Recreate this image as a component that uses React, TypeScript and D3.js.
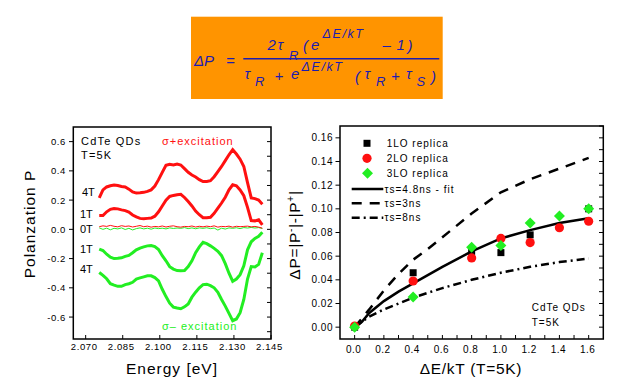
import * as d3 from 'd3';

// left panel: polarization spectra (energy grid shared by all curves)
const energies = [
  2.0755, 2.077, 2.0785, 2.08, 2.0815, 2.083, 2.0845, 2.086, 2.0875, 2.089, 2.0905, 2.092, 2.0935, 2.095, 2.0965,
  2.098, 2.0995, 2.101, 2.1025, 2.104, 2.1055, 2.107, 2.1085, 2.11, 2.1115, 2.113, 2.1145, 2.116, 2.1175, 2.119,
  2.1205, 2.122, 2.1235, 2.125, 2.1265, 2.128, 2.1295, 2.131, 2.1325, 2.134, 2.1355, 2.137, 2.1385, 2.14, 2.1415,
];
const plus4T = [
  0.215, 0.27, 0.29, 0.298, 0.303, 0.3, 0.293, 0.29, 0.275, 0.256, 0.248, 0.25, 0.253, 0.26, 0.27, 0.296, 0.34, 0.39,
  0.438, 0.445, 0.44, 0.446, 0.44, 0.415, 0.39, 0.372, 0.358, 0.34, 0.327, 0.328, 0.333, 0.36, 0.395, 0.43, 0.47, 0.51,
  0.545, 0.515, 0.48, 0.43, 0.32, 0.215, 0.21, 0.2, 0.172,
];
const plus1T = [
  0.094, 0.094, 0.12, 0.137, 0.142, 0.14, 0.133, 0.128, 0.118, 0.098, 0.085, 0.075, 0.072, 0.075, 0.077, 0.09, 0.12,
  0.16, 0.2, 0.225, 0.232, 0.237, 0.24, 0.218, 0.19, 0.16, 0.125, 0.1, 0.08, 0.08, 0.083, 0.11, 0.145, 0.18, 0.22, 0.27,
  0.305, 0.298, 0.27, 0.23, 0.15, 0.06, 0.058, 0.065, 0.03,
];
const plus0T = [
  0.018, 0.024, 0.02, 0.027, 0.021, 0.017, 0.025, 0.02, 0.023, 0.016, 0.021, 0.026, 0.018, 0.022, 0.015, 0.02, 0.017,
  0.023, 0.016, 0.021, 0.024, 0.018, 0.015, 0.02, 0.018, 0.023, 0.016, 0.021, 0.017, 0.022, 0.018, 0.024, 0.015, 0.02,
  0.018, 0.022, 0.015, 0.021, 0.018, 0.02, 0.022, 0.017, 0.02, 0.015, 0.008,
];
const minus0T = [
  0.01, 0.0, 0.008, -0.003, 0.007, 0.003, 0.01, -0.001, 0.007, -0.004, 0.005, 0.01, 0.003, 0.008, 0.001, 0.009, 0.005,
  0.008, 0.003, 0.01, 0.006, 0.009, 0.007, 0.012, 0.005, 0.01, 0.004, 0.01, 0.007, 0.011, 0.005, 0.009, -0.005, 0.008,
  0.002, 0.01, 0.007, 0.011, 0.005, 0.012, 0.009, 0.013, 0.009, 0.012, 0.006,
];
const minus1T = [
  -0.135, -0.145, -0.17, -0.19, -0.2, -0.198, -0.195, -0.185, -0.178, -0.16, -0.14, -0.128, -0.12, -0.113, -0.111,
  -0.118, -0.138, -0.18, -0.215, -0.255, -0.272, -0.282, -0.283, -0.282, -0.255, -0.215, -0.16, -0.12, -0.089, -0.098,
  -0.113, -0.13, -0.15, -0.18, -0.235, -0.3, -0.355, -0.34, -0.31, -0.25, -0.14, -0.085, -0.062, -0.048, -0.02,
];
const minus4T = [
  -0.295, -0.315, -0.338, -0.372, -0.382, -0.39, -0.39, -0.378, -0.372, -0.362, -0.34, -0.332, -0.325, -0.318, -0.318,
  -0.33, -0.352, -0.41, -0.46, -0.505, -0.532, -0.538, -0.543, -0.53, -0.51, -0.464, -0.43, -0.4, -0.378, -0.375,
  -0.385, -0.4, -0.43, -0.48, -0.525, -0.575, -0.625, -0.613, -0.57, -0.48, -0.34, -0.255, -0.258, -0.24, -0.16,
];
const energyTicks = [2.07, 2.085, 2.1, 2.115, 2.13, 2.145];
const energyTickLabels = ['2.070', '2.085', '2.100', '2.115', '2.130', '2.145'];
const polTicks = [0.6, 0.4, 0.2, 0.0, -0.2, -0.4, -0.6];
const polTickLabels = ['0.6', '0.4', '0.2', '0.0', '-0.2', '-0.4', '-0.6'];

// right panel: ΔP vs ΔE/kT
const lo1X = [0, 0.4, 0.8, 1.0, 1.2, 1.6];
const lo1Y = [0.0, 0.046, 0.064, 0.063, 0.078, 0.1];
const loX = [0, 0.4, 0.8, 1.0, 1.2, 1.4, 1.6];
const lo2Y = [0.001, 0.039, 0.0585, 0.075, 0.0715, 0.084, 0.0895];
const lo3Y = [0.0, 0.0255, 0.0675, 0.069, 0.088, 0.094, 0.1];
const fitX = [0, 0.05, 0.1, 0.2, 0.3, 0.4, 0.5, 0.6, 0.8, 1.0, 1.2, 1.4, 1.6];
const fitY = [0, 0.0045, 0.012, 0.022, 0.03, 0.037, 0.044, 0.051, 0.064, 0.075, 0.082, 0.088, 0.092];
const modelX = [0, 0.1, 0.2, 0.3, 0.4, 0.5, 0.6, 0.8, 1.0, 1.2, 1.4, 1.6];
const ts3Y = [0, 0.015, 0.031, 0.045, 0.057, 0.066, 0.076, 0.096, 0.114, 0.125, 0.134, 0.143];
const ts8Y = [0, 0.009, 0.015, 0.02, 0.025, 0.029, 0.033, 0.04, 0.046, 0.051, 0.055, 0.058];
const dpTicks = [0, 0.02, 0.04, 0.06, 0.08, 0.1, 0.12, 0.14, 0.16];
const dpTickLabels = ['0.00', '0.02', '0.04', '0.06', '0.08', '0.10', '0.12', '0.14', '0.16'];
const ekTicks = [0, 0.2, 0.4, 0.6, 0.8, 1.0, 1.2, 1.4, 1.6];
const ekTickLabels = ['0.0', '0.2', '0.4', '0.6', '0.8', '1.0', '1.2', '1.4', '1.6'];

const FONT = 'Liberation Sans, Arial, sans-serif';
const RED = '#ff1010';
const GREEN = '#22ee22';
const BLUE = '#1c1cb0';

function SpectraPanel() {
  const x = d3.scaleLinear().domain([2.065, 2.145]).range([73.3, 271]);
  const y = d3.scaleLinear().domain([-0.75, 0.7]).range([339, 127]);
  const line = (vals: number[]) =>
    d3.line<number>().x((_, i) => x(energies[i])).y((d) => y(d))(vals) as string;
  const minor = d3.range(-7, 7).map((k) => k / 10);

  return (
    <g fontFamily={FONT}>
      <rect x={73.3} y={127} width={197.7} height={212} fill='none' stroke='#000' strokeWidth={1.5} />
      {polTicks.map((t, i) => (
        <g key={t}>
          <line x1={69} x2={73.3} y1={y(t)} y2={y(t)} stroke='#000' />
          <text x={66} y={y(t) + 3.5} textAnchor='end' fontSize={9.5} letterSpacing={0.6}>
            {polTickLabels[i]}
          </text>
        </g>
      ))}
      {minor.map((t) => (
        <line key={t} x1={267} x2={271} y1={y(t)} y2={y(t)} stroke='#000' />
      ))}
      {energyTicks.map((t, i) => (
        <g key={t}>
          <line x1={x(t)} x2={x(t)} y1={335} y2={339} stroke='#000' />
          <text x={x(t) - 1.5} y={350} textAnchor='middle' fontSize={9.5} letterSpacing={0.6}>
            {energyTickLabels[i]}
          </text>
        </g>
      ))}

      <path d={line(minus0T)} fill='none' stroke={GREEN} strokeWidth={1} />
      <path d={line(plus0T)} fill='none' stroke={RED} strokeWidth={1} />
      <path d={line(plus4T)} fill='none' stroke={RED} strokeWidth={3} />
      <path d={line(plus1T)} fill='none' stroke={RED} strokeWidth={3} />
      <path d={line(minus1T)} fill='none' stroke={GREEN} strokeWidth={3} />
      <path d={line(minus4T)} fill='none' stroke={GREEN} strokeWidth={3} />

      <text x={81} y={145} fontSize={11} letterSpacing={1.2}>CdTe QDs</text>
      <text x={81} y={159} fontSize={11} letterSpacing={1.2}>T=5K</text>
      <text x={162} y={145} fontSize={11} letterSpacing={1} fill={RED}>σ+excitation</text>
      <text x={162} y={330} fontSize={11} letterSpacing={1} fill={GREEN}>σ– excitation</text>
      <text x={82} y={196} fontSize={11}>4T</text>
      <text x={80} y={218} fontSize={11}>1T</text>
      <text x={80} y={233} fontSize={11}>0T</text>
      <text x={80} y={253} fontSize={11}>1T</text>
      <text x={80} y={273} fontSize={11}>4T</text>

      <text x={172} y={374} textAnchor='middle' fontSize={15.5} letterSpacing={1}>Energy [eV]</text>
      <text transform='translate(35,224) rotate(-90)' textAnchor='middle' fontSize={15.5} letterSpacing={1}>
        Polanzation P
      </text>
    </g>
  );
}

function ReplicaPanel() {
  const x = d3.scaleLinear().domain([-0.1, 1.7]).range([340, 603.3]);
  const y = d3.scaleLinear().domain([-0.01, 0.17]).range([339, 126]);
  const path = (xs: number[], ys: number[]) =>
    d3.line<number>().x((d) => x(d)).y((_, i) => y(ys[i]))(xs) as string;
  const minorY = d3.range(0, 18).map((k) => k / 100);
  const minorX = d3.range(0, 17).map((k) => k / 10);

  return (
    <g fontFamily={FONT}>
      <rect x={340} y={126} width={263.3} height={213} fill='none' stroke='#000' strokeWidth={1.5} />
      {dpTicks.map((t, i) => (
        <g key={t}>
          <line x1={335.5} x2={340} y1={y(t)} y2={y(t)} stroke='#000' />
          <text x={333} y={y(t) + 3.5} textAnchor='end' fontSize={10} letterSpacing={0.5}>
            {dpTickLabels[i]}
          </text>
        </g>
      ))}
      {minorY.map((t) => (
        <line key={t} x1={599} x2={603.3} y1={y(t)} y2={y(t)} stroke='#000' />
      ))}
      {minorX.map((t) => (
        <line key={t} x1={x(t)} x2={x(t)} y1={335} y2={339} stroke='#000' />
      ))}
      {ekTicks.map((t, i) => (
        <text key={t} x={x(t) - 1} y={352.5} textAnchor='middle' fontSize={10} letterSpacing={0.5}>
          {ekTickLabels[i]}
        </text>
      ))}

      <path d={path(modelX, ts3Y)} fill='none' stroke='#000' strokeWidth={2.5} strokeDasharray='10,8' />
      <path d={path(modelX, ts8Y)} fill='none' stroke='#000' strokeWidth={2.5} strokeDasharray='8,4,2,4' />
      <path d={path(fitX, fitY)} fill='none' stroke='#000' strokeWidth={2.5} />

      {lo1X.map((v, i) => (
        <rect key={v} x={x(v) - 3.5} y={y(lo1Y[i]) - 3.5} width={7} height={7} fill='#000' />
      ))}
      {loX.map((v, i) => (
        <circle key={v} cx={x(v)} cy={y(lo2Y[i])} r={4.6} fill={RED} />
      ))}
      {loX.map((v, i) => (
        <path key={v} d={`M${x(v)},${y(lo3Y[i]) - 5.5}l5.5,5.5l-5.5,5.5l-5.5,-5.5z`} fill={GREEN} />
      ))}

      {/* legend */}
      <rect x={363.5} y={139.8} width={7} height={7} fill='#000' />
      <circle cx={367} cy={158.3} r={4.6} fill={RED} />
      <path d='M367.5,167.8l5.5,5.5l-5.5,5.5l-5.5,-5.5z' fill={GREEN} />
      <line x1={351.7} x2={383.3} y1={189} y2={189} stroke='#000' strokeWidth={2.5} />
      <line x1={351.7} x2={383.3} y1={203.3} y2={203.3} stroke='#000' strokeWidth={2.5} strokeDasharray='10,8' />
      <line x1={351.7} x2={383.3} y1={217.7} y2={217.7} stroke='#000' strokeWidth={2.5} strokeDasharray='8,4,2,4' />
      <g fontSize={10} letterSpacing={1}>
        <text x={386.7} y={147}>1LO replica</text>
        <text x={386.7} y={162}>2LO replica</text>
        <text x={386.7} y={177}>3LO replica</text>
        <text x={384.5} y={192.6}>τs=4.8ns - fit</text>
        <text x={384.5} y={207}>τs=3ns</text>
        <text x={384.5} y={221.4}>τs=8ns</text>
        <text x={531.7} y={310.5}>CdTe QDs</text>
        <text x={531.7} y={325.5}>T=5K</text>
      </g>

      <text x={471} y={374} textAnchor='middle' fontSize={15.5} letterSpacing={0.7}>ΔE/kT (T=5K)</text>
      <text transform='translate(300,235) rotate(-90)' textAnchor='middle' fontSize={15.5} letterSpacing={0.7}>
        ΔP=|P<tspan dy={-6} fontSize={10}>-</tspan>
        <tspan dy={6}>|-|P</tspan>
        <tspan dy={-6} fontSize={10}>+</tspan>
        <tspan dy={6}>|</tspan>
      </text>
    </g>
  );
}

function Formula() {
  return (
    <g fontFamily={FONT} fontStyle='italic' fill={BLUE}>
      <rect x={191} y={16.7} width={251.7} height={82.3} fill='#ff9400' />
      <g fontSize={15}>
        <text x={194} y={66}>ΔP</text>
        <text x={226} y={66}>=</text>
        <text x={267.5} y={49.5}>2</text>
        <text x={277.5} y={49.5}>τ</text>
        <text x={303} y={51}>(</text>
        <text x={311} y={49.5}>e</text>
        <text x={382.5} y={49.5}>–</text>
        <text x={396.5} y={49.5}>1</text>
        <text x={407.5} y={51}>)</text>
        <text x={244.5} y={79}>τ</text>
        <text x={274.5} y={81}>+</text>
        <text x={291} y={79}>e</text>
        <text x={355} y={82}>(</text>
        <text x={364.5} y={79}>τ</text>
        <text x={391} y={81}>+</text>
        <text x={406} y={79}>τ</text>
        <text x={431} y={82}>)</text>
      </g>
      <g fontSize={13}>
        <text x={289} y={60}>R</text>
        <text x={255} y={86}>R</text>
        <text x={376} y={86}>R</text>
        <text x={416.5} y={86}>S</text>
      </g>
      <g fontSize={12.5} letterSpacing={1.6}>
        <text x={322.5} y={38}>ΔE/kT</text>
        <text x={301.5} y={71}>ΔE/kT</text>
      </g>
      <line x1={243.3} x2={439.3} y1={58.7} y2={58.7} stroke={BLUE} strokeWidth={1.5} />
    </g>
  );
}

export default function App() {
  return (
    <svg
      width={629}
      height={392}
      viewBox='0 0 629 392'
      style={{ position: 'absolute', left: 0, top: 0, background: '#fff' }}
    >
      <rect width={629} height={392} fill='#fff' />
      <Formula />
      <SpectraPanel />
      <ReplicaPanel />
    </svg>
  );
}
